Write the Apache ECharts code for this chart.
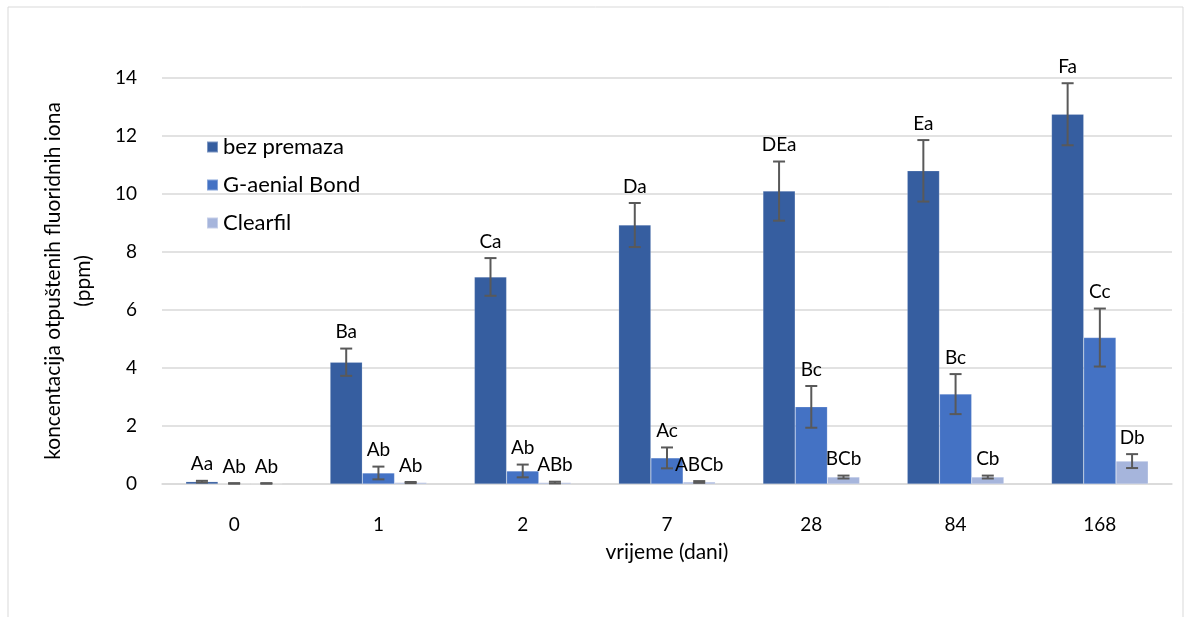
<!DOCTYPE html>
<html>
<head>
<meta charset="utf-8">
<script src="https://cdn.jsdelivr.net/npm/echarts@6/dist/echarts.min.js"></script>
<style>
  html, body { margin: 0; padding: 0; background: #fff; }
  #chart { width: 1191px; height: 617px; }
</style>
</head>
<body>
<div id="chart"></div>
<script>
// kategorije (dani)
const days = ['0', '1', '2', '7', '28', '84', '168'];
const seriesNames = ['bez premaza', 'G-aenial Bond', 'Clearfil'];

// srednje vrijednosti (ppm)
const bezPremaza = [0.08, 4.2, 7.14, 8.93, 10.1, 10.8, 12.75];
const gaenial = [0.02, 0.38, 0.45, 0.9, 2.66, 3.1, 5.05];
const clearfil = [0.02, 0.05, 0.05, 0.07, 0.24, 0.24, 0.79];

// standardne devijacije
const bezPremazaErr = [0.03, 0.47, 0.65, 0.76, 1.02, 1.06, 1.07];
const gaenialErr = [0.01, 0.22, 0.22, 0.36, 0.72, 0.69, 1.0];
const clearfilErr = [0.01, 0.02, 0.03, 0.03, 0.05, 0.05, 0.24];

// oznake statisticke znacajnosti
const bezPremazaLbl = ['Aa', 'Ba', 'Ca', 'Da', 'DEa', 'Ea', 'Fa'];
const gaenialLbl = ['Ab', 'Ab', 'Ab', 'Ac', 'Bc', 'Bc', 'Cc'];
const clearfilLbl = ['Ab', 'Ab', 'ABb', 'ABCb', 'BCb', 'Cb', 'Db'];

const colors = ['#365EA0', '#4472C4', '#A6B5DC'];
const values = [bezPremaza, gaenial, clearfil];
const errors = [bezPremazaErr, gaenialErr, clearfilErr];
const labels = [bezPremazaLbl, gaenialLbl, clearfilLbl];

const FONT = 'Lato, "Open Sans", sans-serif';
const GAP = 0.33; // barCategoryGap

const chart = echarts.init(document.getElementById('chart'));

// greske + oznake iznad stupaca
function errorSeries(k) {
  return {
    type: 'custom',
    name: seriesNames[k] + ' err',
    z: 5,
    data: days.map((d, i) => [i, values[k][i], errors[k][i], labels[k][i]]),
    renderItem(params, api) {
      const idx = api.value(0);
      const v = api.value(1);
      const e = api.value(2);
      const band = api.size([1, 0])[0];
      const bw = band * (1 - GAP) / 3;
      const x = api.coord([idx, v])[0] + (k - 1) * bw;
      const yHi = api.coord([idx, v + e])[1];
      const yLo = api.coord([idx, Math.max(v - e, 0)])[1];
      const cap = 6;
      const st = { stroke: '#595959', lineWidth: 2 };
      return {
        type: 'group',
        children: [
          { type: 'line', shape: { x1: x, y1: yHi, x2: x, y2: yLo }, style: st },
          { type: 'line', shape: { x1: x - cap, y1: yHi, x2: x + cap, y2: yHi }, style: st },
          { type: 'line', shape: { x1: x - cap, y1: yLo, x2: x + cap, y2: yLo }, style: st },
          {
            type: 'text',
            x: x,
            y: yHi - 7,
            style: {
              text: labels[k][idx],
              fill: '#000',
              font: '19px ' + FONT,
              align: 'center',
              verticalAlign: 'bottom'
            }
          }
        ]
      };
    }
  };
}

const barSeries = seriesNames.map((name, k) => ({
  type: 'bar',
  name: name,
  data: values[k],
  barGap: '0%',
  barCategoryGap: '33%',
  itemStyle: { color: colors[k], borderColor: 'rgba(255,255,255,0.35)', borderWidth: 0.5 }
}));

chart.setOption({
  animation: false,
  color: colors,
  textStyle: { fontFamily: FONT },
  graphic: [{
    type: 'rect',
    shape: { x: 8, y: 7, width: 1175, height: 640 },
    style: { fill: 'none', stroke: '#d9d9d9', lineWidth: 1 },
    silent: true
  }],
  grid: { left: 162, right: 19, top: 78, bottom: 133 },
  legend: {
    data: seriesNames,
    orient: 'vertical',
    left: 201,
    top: 131,
    itemWidth: 11,
    itemHeight: 11,
    itemGap: 16,
    icon: 'rect',
    textStyle: { fontSize: 22, color: '#000', fontFamily: FONT }
  },
  xAxis: {
    type: 'category',
    data: days,
    name: 'vrijeme (dani)',
    nameLocation: 'middle',
    nameGap: 58,
    nameTextStyle: { fontSize: 21, color: '#000' },
    axisLine: { lineStyle: { color: '#d9d9d9', width: 1.5 } },
    axisTick: { show: false },
    axisLabel: { fontSize: 19, color: '#000', margin: 31 }
  },
  yAxis: {
    type: 'value',
    min: 0,
    max: 14,
    interval: 2,
    name: 'koncentacija otpuštenih fluoridnih iona\n(ppm)',
    nameLocation: 'middle',
    nameGap: 64,
    nameTextStyle: { fontSize: 21, color: '#000', lineHeight: 30 },
    axisLine: { show: false },
    axisTick: { show: false },
    axisLabel: { fontSize: 19, color: '#000', margin: 25 },
    splitLine: { lineStyle: { color: '#d9d9d9', width: 1.5 } }
  },
  series: barSeries.concat([0, 1, 2].map(errorSeries))
});
</script>
</body>
</html>
